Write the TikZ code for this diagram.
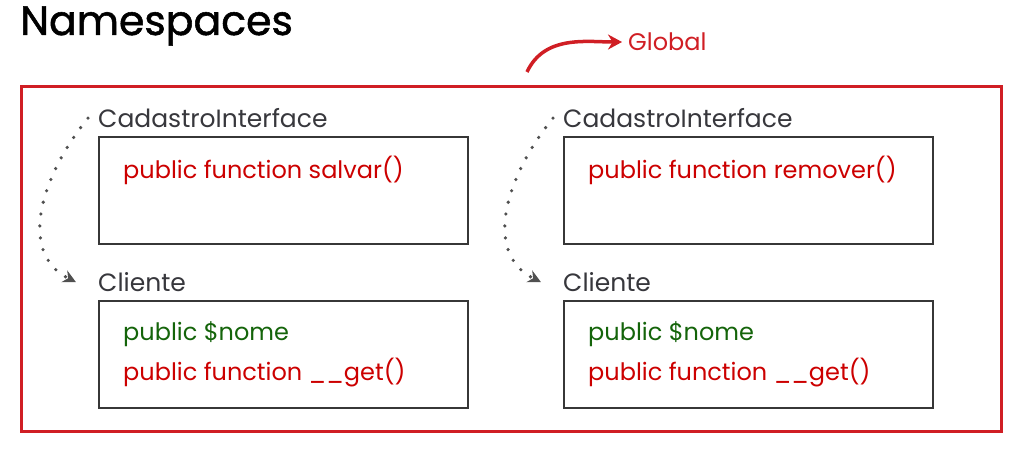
\documentclass[tikz,border=0pt]{standalone}
\usepackage{fontspec}
\setmainfont{Poppins}
\newfontfamily\titlefont{Poppins}[FakeBold=1.3]
\usepackage{xcolor}
\usepackage{tikz}
\usetikzlibrary{arrows.meta, positioning, calc}

\definecolor{framered}{RGB}{208,30,36}
\definecolor{fnred}{RGB}{204,0,0}
\definecolor{attrgreen}{RGB}{20,100,10}
\definecolor{boxgray}{RGB}{55,55,55}
\definecolor{labelgray}{RGB}{55,55,60}
\definecolor{dotgray}{RGB}{80,80,80}

\begin{document}
\begin{tikzpicture}[
    x=1pt, y=-1pt,
    frame/.style={rectangle, draw=framered, line width=2.6pt, minimum width=980pt, minimum height=345pt, anchor=north west},
    classbox/.style={rectangle, draw=boxgray, line width=1.9pt, minimum width=369pt, minimum height=107pt, anchor=north west},
    classname/.style={text=labelgray, font=\fontsize{25}{29}\selectfont, inner sep=0pt, anchor=south west},
    member/.style={font=\fontsize{24}{28}\selectfont, inner sep=0pt, anchor=west},
    method/.style={member, text=fnred},
    attr/.style={member, text=attrgreen},
    dotlink/.style={draw=dotgray, line width=3.6pt, line cap=round, dash pattern=on 0pt off 12pt, -{Stealth[length=13pt, width=13pt]}},
    globalarrow/.style={draw=framered, line width=3.5pt, shorten >=6pt, -{Stealth[length=14pt, width=15pt]}}
]
\useasboundingbox (0,0) rectangle (1035,458);

% Title
\node[anchor=west, inner sep=0pt, font=\titlefont\fontsize{41}{46}\selectfont] (title) at (20,26) {Namespaces};

% Global namespace
\node[frame] (global) at (20,85) {};
\node[anchor=west, inner sep=0pt, text=framered, font=\fontsize{24}{28}\selectfont] (globallabel) at (628,42) {Global};
\coordinate (globalstart) at (527,72);
\draw[globalarrow] (globalstart) to[out=65, in=180] (globallabel.west);

% Left namespace
\node[classbox] (ifaceA) at (98,136) {};
\node[classname, above=8pt of ifaceA.north west, anchor=south west] (ifaceAname) {CadastroInterface};
\node[method] (salvar) at ($(ifaceA.north west)+(25,34)$) {public function salvar()};

\node[classbox] (clienteA) at (98,300) {};
\node[classname, above=8pt of clienteA.north west, anchor=south west] (clienteAname) {Cliente};
\node[attr] (nomeA) at ($(clienteA.north west)+(25,34)$) {public \$nome};
\node[method] (getA) at ($(clienteA.north west)+(25,73)$) {public function \_\_get()};

\draw[dotlink] ($(ifaceAname.west)+(-10,0)$) .. controls +(-45,55) and +(-60,-30) .. ($(clienteAname.west)+(-22,0)$);

% Right namespace
\node[classbox] (ifaceB) at (563,136) {};
\node[classname, above=8pt of ifaceB.north west, anchor=south west] (ifaceBname) {CadastroInterface};
\node[method] (remover) at ($(ifaceB.north west)+(25,34)$) {public function remover()};

\node[classbox] (clienteB) at (563,300) {};
\node[classname, above=8pt of clienteB.north west, anchor=south west] (clienteBname) {Cliente};
\node[attr] (nomeB) at ($(clienteB.north west)+(25,34)$) {public \$nome};
\node[method] (getB) at ($(clienteB.north west)+(25,73)$) {public function \_\_get()};

\draw[dotlink] ($(ifaceBname.west)+(-10,0)$) .. controls +(-45,55) and +(-60,-30) .. ($(clienteBname.west)+(-22,0)$);

\end{tikzpicture}
\end{document}
